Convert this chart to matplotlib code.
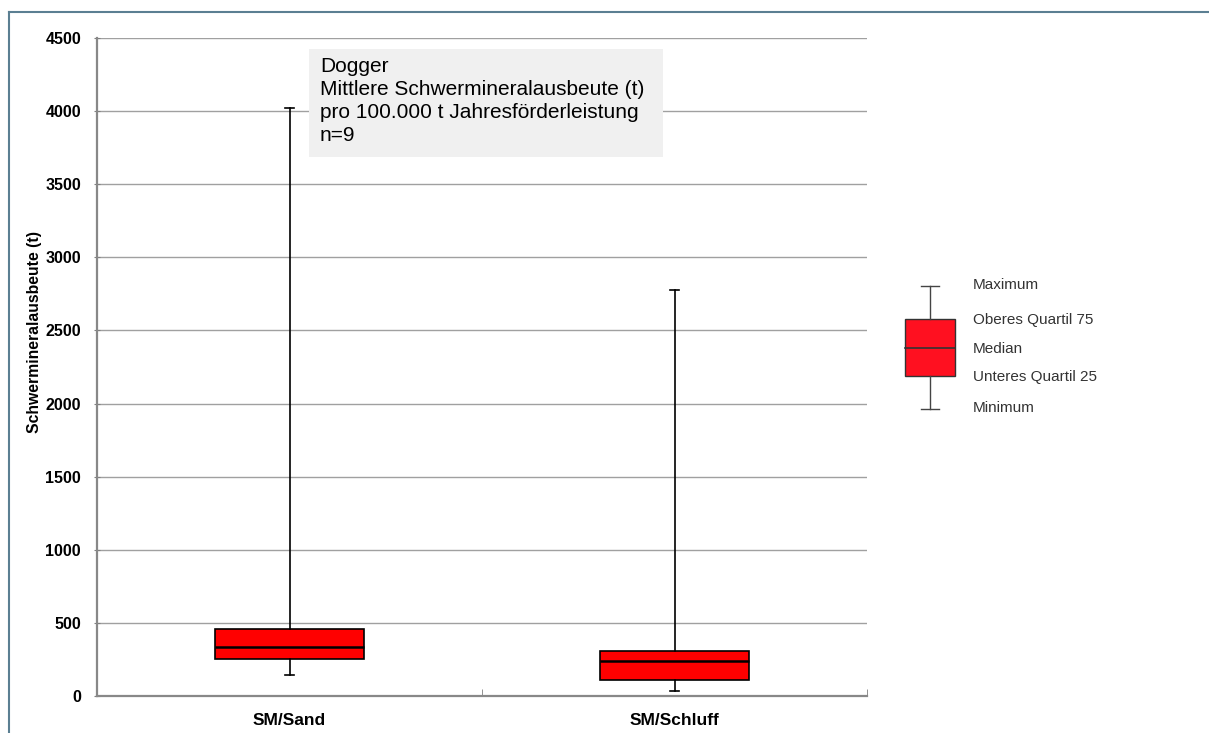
import matplotlib
matplotlib.use("Agg")
import matplotlib.pyplot as plt
from matplotlib.patches import Rectangle
from matplotlib.lines import Line2D

# Schwermineralausbeute, Dogger, box plot per category
categories = ["SM/Sand", "SM/Schluff"]
minimum = [144, 36]
q1 = [255, 111]
median = [337, 241]
q3 = [460, 310]
maximum = [4020, 2777]

yticks = [0, 500, 1000, 1500, 2000, 2500, 3000, 3500, 4000, 4500]
legend_labels = ["Maximum", "Oberes Quartil 75", "Median", "Unteres Quartil 25", "Minimum"]
info_lines = ["Dogger", "Mittlere Schwermineralausbeute (t)",
              "pro 100.000 t Jahresförderleistung", "n=9"]

plt.rcParams['font.family'] = ['Liberation Sans', 'DejaVu Sans']

W, H = 1209, 733
fig = plt.figure(figsize=(W / 100, H / 100), dpi=100)
ax = fig.add_axes([97 / W, 1 - 696 / H, 770 / W, 658 / H])

stats = []
for i, name in enumerate(categories):
    stats.append({'label': name, 'whislo': minimum[i], 'q1': q1[i], 'med': median[i],
                  'q3': q3[i], 'whishi': maximum[i], 'fliers': []})

ax.bxp(stats, positions=[0, 1], widths=0.385, patch_artist=True, showfliers=False,
       boxprops=dict(facecolor='#ff0000', edgecolor='black', linewidth=1.2),
       medianprops=dict(color='black', linewidth=1.8),
       whiskerprops=dict(color='black', linewidth=1.2),
       capprops=dict(color='black', linewidth=1.2), capwidths=0.022)

ax.set_xlim(-0.5, 1.5)
ax.set_ylim(0, 4500)
ax.set_yticks(yticks)
ax.set_yticklabels([str(t) for t in yticks], fontsize=11.5, fontweight='bold')
ax.yaxis.grid(True, color='#a0a0a0', linewidth=1)
ax.set_axisbelow(True)

ax.set_xticks([0, 1])
ax.set_xticklabels(categories, fontsize=12.5, fontweight='bold')
ax.tick_params(axis='x', length=0, pad=12)
ax.set_xticks([0.5, 1.5], minor=True)
ax.tick_params(axis='x', which='minor', length=5, color='#808080', direction='in')
ax.tick_params(axis='y', length=5, color='#808080', direction='inout', pad=9)

for s in ['top', 'right']:
    ax.spines[s].set_visible(False)
for s in ['left', 'bottom']:
    ax.spines[s].set_color('#888888')
    ax.spines[s].set_linewidth(1.6)

ax.set_ylabel("Schwermineralausbeute (t)", fontsize=11.3, fontweight='bold')
ax.yaxis.set_label_coords(-0.072, 0.553)

# info box
fig.patches.append(Rectangle((309 / W, 1 - 157 / H), 354 / W, 108 / H,
                             transform=fig.transFigure, facecolor='#f0f0f0',
                             edgecolor='none', zorder=3))
fig.text(320 / W, 1 - 57 / H, "\n".join(info_lines), fontsize=15, va='top', ha='left',
         linespacing=1.27, color='black', zorder=4)

# legend key
leg = fig.add_axes([0, 0, 1, 1], facecolor='none')
leg.set_xlim(0, W)
leg.set_ylim(H, 0)
leg.axis('off')
leg.add_patch(Rectangle((905, 319), 50, 57, facecolor='#ff1020', edgecolor='#333333', linewidth=1))
leg.plot([905, 955], [348, 348], color='#333333', linewidth=1.2)
leg.plot([930, 930], [286, 319], color='#444444', linewidth=1)
leg.plot([930, 930], [376, 409], color='#444444', linewidth=1)
leg.plot([921, 939], [286, 286], color='#444444', linewidth=1)
leg.plot([921, 939], [409, 409], color='#444444', linewidth=1)
for lab, yy in zip(legend_labels, [285, 320, 349, 377, 408]):
    leg.text(973, yy, lab, fontsize=11, color='#333333', va='center', ha='left')

# outer frame (left and top edges)
fig.add_artist(Line2D([9 / W, 9 / W], [0, 1 - 12 / H], transform=fig.transFigure,
                      color='#5b7f92', linewidth=1.5))
fig.add_artist(Line2D([9 / W, 1], [1 - 12 / H, 1 - 12 / H], transform=fig.transFigure,
                      color='#5b7f92', linewidth=1.5))

fig.savefig("out.png", dpi=100)
